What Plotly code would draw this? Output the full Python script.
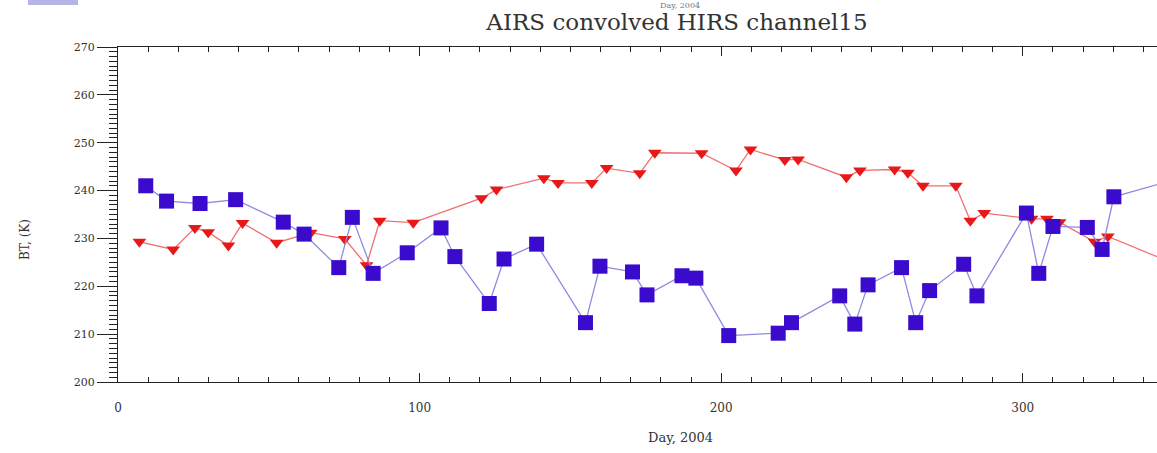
import plotly.graph_objects as go

# AIRS convolved HIRS channel 15 brightness temperatures
blue_day = [9.2, 16.1, 27.2, 39.0, 54.8, 61.7, 73.2, 77.7, 84.6, 95.9,
            107.1, 111.7, 123.1, 128.0, 138.8, 155.0, 159.8, 170.6, 175.4, 187.0,
            191.6, 202.5, 218.9, 223.3, 239.3, 244.3, 248.7, 259.8, 264.5, 269.1,
            280.4, 284.8, 301.2, 305.3, 310.0, 321.4, 326.3, 330.2, 360.0]
blue_bt = [241.0, 237.8, 237.3, 238.1, 233.4, 230.9, 223.9, 234.4, 222.7, 227.0,
           232.2, 226.2, 216.4, 225.7, 228.8, 212.4, 224.2, 223.0, 218.2, 222.2,
           221.7, 209.7, 210.2, 212.4, 218.0, 212.1, 220.3, 223.9, 212.4, 219.1,
           224.6, 218.0, 235.3, 222.7, 232.5, 232.3, 227.7, 238.7, 244.0]

red_day = [7.1, 18.3, 25.5, 29.9, 36.6, 41.3, 52.6, 63.9, 75.2, 82.4,
           86.8, 97.9, 120.5, 125.5, 141.2, 145.9, 157.1, 162.0, 173.0, 178.0,
           193.5, 204.9, 209.7, 221.1, 225.5, 241.5, 246.0, 257.5, 261.9, 266.9,
           277.8, 282.6, 287.2, 302.9, 308.0, 312.2, 323.8, 328.2, 360.0]
red_bt = [229.3, 227.7, 232.2, 231.3, 228.5, 233.2, 229.1, 231.2, 229.9, 224.4,
          233.7, 233.3, 238.4, 240.2, 242.6, 241.6, 241.6, 244.7, 243.6, 247.9,
          247.8, 244.2, 248.6, 246.4, 246.5, 242.8, 244.2, 244.4, 243.7, 241.0,
          241.0, 233.7, 235.3, 234.1, 234.1, 233.4, 229.3, 230.4, 222.2]

x_range = [0, 344.5]
y_range = [200, 270]
x_ticks = [0, 100, 200, 300]
y_ticks = [200, 210, 220, 230, 240, 250, 260, 270]

SERIF = "DejaVu Serif"
AX = "#222222"
TXT = "#333333"

fig = go.Figure()
fig.add_trace(go.Scatter(
    x=red_day, y=red_bt, mode="lines+markers",
    line=dict(color="#f07070", width=1.3),
    marker=dict(symbol="triangle-down", size=12, color="#e81818",
                line=dict(width=0)),
    showlegend=False, cliponaxis=True))
fig.add_trace(go.Scatter(
    x=blue_day, y=blue_bt, mode="lines+markers",
    line=dict(color="#8c8ce0", width=1.3),
    marker=dict(symbol="square", size=15, color="#3a0bcc",
                line=dict(width=0)),
    showlegend=False, cliponaxis=True))

fig.update_layout(
    width=1157, height=453,
    margin=dict(l=118, r=0, t=47, b=71),
    paper_bgcolor="white", plot_bgcolor="white",
    font=dict(family=SERIF, color=AX, size=12),
    title=dict(text="AIRS convolved HIRS channel15", x=677 / 1157, xanchor="center",
               y=1 - 22 / 453, yanchor="middle",
               font=dict(family=SERIF, size=23, color=TXT)),
)

fig.update_xaxes(
    range=x_range, tickvals=x_ticks, ticktext=[str(v) for v in x_ticks],
    showgrid=False, zeroline=False, showline=True, linecolor=AX, linewidth=1.3,
    mirror="ticks", ticks="inside", ticklen=9, tickcolor=AX,
    minor=dict(dtick=10, tick0=0, ticks="inside", ticklen=5, tickcolor=AX),
    tickfont=dict(family=SERIF, size=12, color=TXT),
    ticklabelstandoff=14,
)
fig.update_yaxes(
    range=y_range, tickvals=y_ticks, ticktext=[str(v) for v in y_ticks],
    showgrid=False, zeroline=False, showline=True, linecolor=AX, linewidth=1.3,
    ticks="outside", ticklen=20, tickcolor=AX,
    minor=dict(dtick=1, tick0=200, ticks="outside", ticklen=8, tickcolor=AX),
    tickfont=dict(family=SERIF, size=11, color=TXT),
)

fig.add_annotation(text="Day, 2004", xref="paper", yref="paper",
                   x=(680 - 118) / 1039, y=-(437 - 382) / 335, showarrow=False,
                   xanchor="center", yanchor="middle",
                   font=dict(family=SERIF, size=13, color=TXT))
fig.add_annotation(text="BT, (K)", xref="paper", yref="paper",
                   x=-(118 - 25) / 1039, y=1 - (240 - 47) / 335, showarrow=False,
                   xanchor="center", yanchor="middle", textangle=-90,
                   font=dict(family=SERIF, size=12, color=TXT))
fig.add_annotation(text="Day, 2004", xref="paper", yref="paper",
                   x=(680 - 118) / 1039, y=1 + (47 - 5) / 335, showarrow=False,
                   xanchor="center", yanchor="middle",
                   font=dict(family=SERIF, size=8, color="#777777"))
# faint logo strip at top-left
fig.add_shape(type="rect", xref="paper", yref="paper",
              x0=-(118 - 28) / 1039, x1=-(118 - 78) / 1039,
              y0=1 + (47 - 5) / 335, y1=1 + 47 / 335,
              fillcolor="#b4b4e6", line=dict(width=0), layer="above")

fig.write_html("out.html")
